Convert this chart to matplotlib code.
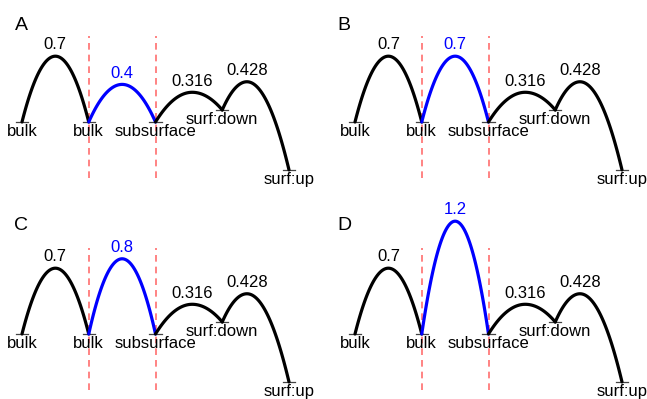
import numpy as np
import matplotlib
matplotlib.use("Agg")
import matplotlib.pyplot as plt

plt.rcParams['font.family'] = ['Liberation Sans', 'DejaVu Sans']

# states along the path and their energies (eV)
states = ['bulk', 'bulk', 'subsurface', 'surf:down', 'surf:up']
state_E = [0.0, 0.0, 0.0, 0.128, -0.51]

# transition-state energies between neighbouring states (second one varies per panel)
ts_E = [0.7, None, 0.316, 0.428]
blue_E = [0.4, 0.7, 0.8, 1.2]
panels = ['A', 'B', 'C', 'D']

# where the top of each arc sits between its two states (fraction)
peak_frac = [0.5, 0.5, 0.55, 0.37]

W, H = 647, 399
DX, DY = 66.75, 94.0   # px per state step, px per eV


def arc(x0, e0, x1, e1, xp, ep, n=60):
    # two half parabolas joined at the peak
    xa = np.linspace(x0, xp, n)
    xb = np.linspace(xp, x1, n)
    ya = ep - (ep - e0) * ((xa - xp) / (x0 - xp)) ** 2
    yb = ep - (ep - e1) * ((xb - xp) / (x1 - xp)) ** 2
    return np.concatenate([xa, xb]), np.concatenate([ya, yb])


fig = plt.figure(figsize=(W / 100, H / 100), dpi=100)

# pixel boxes (left, top, right, bottom) and origin of state 0 at E=0
boxes = [(0, 0, 323, 200), (323, 0, 647, 200), (0, 200, 323, 399), (323, 200, 647, 399)]
origins = [(22, 122), (355, 122), (22, 334), (355, 334)]

for k, lab in enumerate(panels):
    l, t, r, b = boxes[k]
    ox, oy = origins[k]
    ax = fig.add_axes([l / W, 1 - b / H, (r - l) / W, (b - t) / H])
    ax.set_xlim((l - ox) / DX, (r - ox) / DX)
    ax.set_ylim((oy - b) / DY, (oy - t) / DY)
    ax.axis('off')

    xs = np.arange(len(states))
    barriers = list(ts_E)
    barriers[1] = blue_E[k]

    # dashed guides around the varied step
    for xv in (1, 2):
        ax.plot([xv, xv], [-0.6, 0.92], color='#ff6e6e', lw=1.2, ls=(0, (4, 3)), zorder=1)

    for i in range(len(states) - 1):
        xp = xs[i] + peak_frac[i]
        px, py = arc(xs[i], state_E[i], xs[i + 1], state_E[i + 1], xp, barriers[i])
        col = 'blue' if i == 1 else 'black'
        ax.plot(px, py, color=col, lw=2.3, zorder=3, solid_capstyle='round')
        ax.text(xp, barriers[i] + 0.04, '%g' % barriers[i], ha='center', va='bottom',
                fontsize=12, color=col)

    for i, s in enumerate(states):
        ax.plot([xs[i] - 0.09, xs[i] + 0.09], [state_E[i], state_E[i]], color='#444444',
                lw=0.9, zorder=2)
        ax.text(xs[i], state_E[i] - 0.025, s, ha='center', va='top', fontsize=12)

    ax.text(l / W + 21 / W, 1 - (t + 25) / H, lab, transform=fig.transFigure,
            ha='center', va='center', fontsize=14)

fig.savefig('out.png', dpi=100)
